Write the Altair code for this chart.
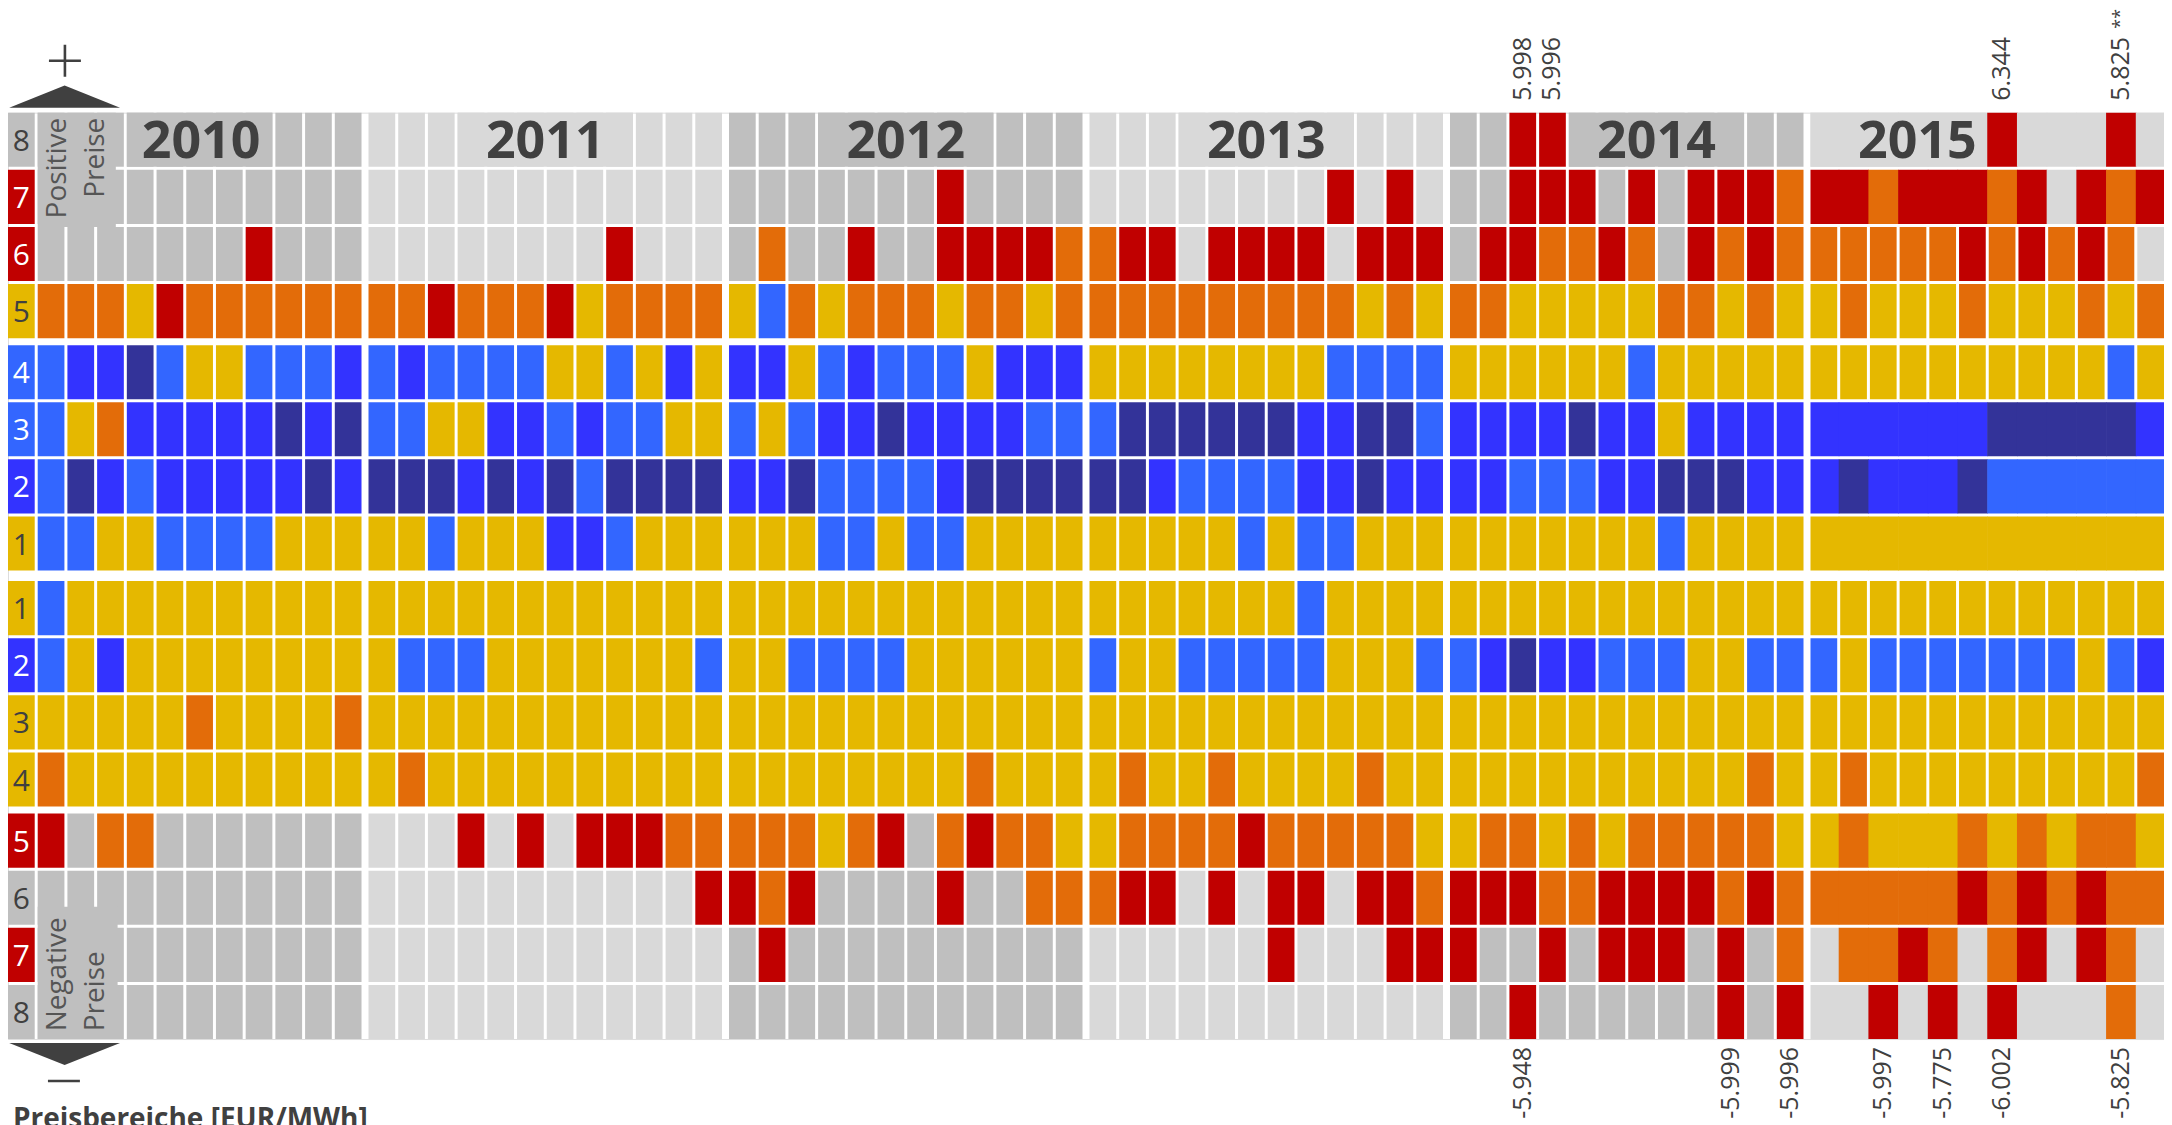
import altair as alt
import pandas as pd

# ---------------- data ----------------
years = [2010, 2011, 2012, 2013, 2014, 2015]
row_names = ["8", "7", "6", "5", "4", "3", "2", "1",
             "1", "2", "3", "4", "5", "6", "7", "8"]

# one string of 12 monthly category codes per year
# G = keine Stunden, R/O/Y/L/B/N = Häufigkeitsklassen
pos8 = ["GGGGGGGGGGGG", "GGGGGGGGGGGG", "GGGGGGGGGGGG", "GGGGGGGGGGGG", "GGRRGGGGGGGG", "GGGGGGRGGGRG"]
pos7 = ["RGGGGGGGGGGG", "GGGGGGGGGGGG", "GGGGGGGRGGGG", "GGGGGGGGRGRG", "GGRRRGRGRRRO", "RRORRRORGROR"]
pos6 = ["RGGGGGGGRGGG", "GGGGGGGGRGGG", "GOGGRGGRRRRO", "ORRGRRRRGRRR", "GRROOROGRORO", "OOOOOROROROG"]
pos5 = ["YOOOYROOOOOO", "OOROOORYOOOO", "YLOYOOOYOOYO", "OOOOOOOOOYOY", "OOYYYYYOOYOY", "YOYYYOYYYOYO"]
pos4 = ["LLBBNLYYLLLB", "LBLLLLYYLYBY", "BBYLBLLLYBBB", "YYYYYYYYLLLL", "YYYYYYLYYYYY", "YYYYYYYYYYLY"]
pos3 = ["LLYOBBBBBNBN", "LLYYBBLBLLYY", "LYLBBNBBBBLL", "LNNNNNNBBNNL", "BBBBNBBYBBBB", "BBBBBBNNNNNB"]
pos2 = ["BLNBLBBBBBNB", "NNNBNBNLNNNN", "BBNLLLLBNNNN", "NNBLLLLBBNBB", "BBLLLBBNNNBB", "BNBBBNLLLLLL"]
pos1 = ["YLLYYLLLLYYY", "YYLYYYBBLYYY", "YYYLLYLLYYYY", "YYYYYLYLLYYY", "YYYYYYYLYYYY", "YYYYYYYYYYYY"]
neg1 = ["YLYYYYYYYYYY", "YYYYYYYYYYYY", "YYYYYYYYYYYY", "YYYYYYYLYYYY", "YYYYYYYYYYYY", "YYYYYYYYYYYY"]
neg2 = ["BLYBYYYYYYYY", "YLLLYYYYYYYL", "YYLLLLYYYYYY", "LYYLLLLLYYYL", "LBNBBLLLYYLL", "LYLLLLLLLYLB"]
neg3 = ["YYYYYYOYYYYO", "YYYYYYYYYYYY", "YYYYYYYYYYYY", "YYYYYYYYYYYY", "YYYYYYYYYYYY", "YYYYYYYYYYYY"]
neg4 = ["YOYYYYYYYYYY", "YOYYYYYYYYYY", "YYYYYYYYOYYY", "YOYYOYYYYOYY", "YYYYYYYYYYOY", "YOYYYYYYYYYO"]
neg5 = ["RRGOOGGGGGGG", "GGGRGRGRRROO", "OOOYORGOROOY", "YOOOOROOOOOY", "YOOYOYOOOOOY", "YOYYYOYOYOOY"]
neg6 = ["GGGGGGGGGGGG", "GGGGGGGGGGGR", "RORGGGGRGGOO", "ORRGRGRRGRRO", "RRROORRRRORO", "OOOOOROROROO"]
neg7 = ["RGGGGGGGGGGG", "GGGGGGGGGGGG", "GRGGGGGGGGGG", "GGGGGGRGGGRR", "RGGRGRRRGRGO", "GOOROGORGROG"]
neg8 = ["GGGGGGGGGGGG", "GGGGGGGGGGGG", "GGGGGGGGGGGG", "GGGGGGGGGGGG", "GGRGGGGGGRGR", "GGRGRGRGGGOG"]
grid = [pos8, pos7, pos6, pos5, pos4, pos3, pos2, pos1,
        neg1, neg2, neg3, neg4, neg5, neg6, neg7, neg8]

# rows whose 2015 months are drawn as continuous bands
merged_rows_2015 = [0, 1, 5, 6, 7, 12, 13, 14, 15]

# extreme values noted above / below the grid
top_note_year = [2014, 2014, 2015, 2015]
top_note_month = [3, 4, 7, 11]
top_note_text = ["5.998", "5.996", "6.344", "5.825"]
top_note_mark = ["", "", "", "**"]
bot_note_year = [2014, 2014, 2014, 2015, 2015, 2015, 2015]
bot_note_month = [3, 10, 12, 3, 5, 7, 11]
bot_note_text = ["-5.948", "-5.999", "-5.996", "-5.997", "-5.775", "-6.002", "-5.825"]

# year label boxes in the top row (first / last month covered)
year_box_first = [5, 4, 4, 4, 5, 1]
year_box_last = [9, 9, 9, 9, 10, 6]
year_text_center = [6.55, 6.0, 6.0, 6.0, 7.0, 3.65]

codes = ["G0", "G1", "R", "O", "Y", "L", "B", "N"]
code_colors = ["#bfbfbf", "#d9d9d9", "#c00000", "#e36c09", "#e5b800", "#3366ff", "#3333ff", "#333399"]
DARK = "#404040"

# ---------------- layout constants (style) ----------------
PX, PY = 29.75, 57.2
G = 3 / PX          # gap between months
K = 4 / PX          # extra gap between years
GY = 3 / PY         # gap between rows
A = 4 / PY          # extra gap between row groups
B = 7.5 / PY        # extra gap between positive and negative block
XMIN, XMAX = G / 2, 72 + 5 * K - G / 2
YMIN, YMAX = GY / 2, 16 + 2 * A + B - GY / 2
W = (XMAX - XMIN) * PX
H = (YMAX - YMIN) * PY
YSTEP = 12 + K

xs = alt.Scale(domain=[XMIN, XMAX], nice=False, zero=False)
ys = alt.Scale(domain=[YMIN, YMAX], nice=False, zero=False, reverse=True)
cs = alt.Scale(domain=codes, range=code_colors)

# ---------------- tables ----------------
recs = []
for r, row in enumerate(grid):
    for yi, s in enumerate(row):
        for m, ch in enumerate(s):
            code = ch if ch != "G" else ("G0" if yi % 2 == 0 else "G1")
            recs.append(dict(r=r, yi=yi, m=m, code=code,
                             merged=bool(yi == 5 and r in merged_rows_2015),
                             label=row_names[r] if (yi == 0 and m == 0) else ""))
cells = pd.DataFrame(recs)

base = alt.Chart(cells).transform_calculate(
    xb=f"datum.yi * {YSTEP} + datum.m",
    yb=f"datum.r + (datum.r >= 4 ? {A} : 0) + (datum.r >= 8 ? {B} : 0) + (datum.r >= 12 ? {A} : 0)",
).transform_calculate(
    x0=f"datum.xb + ((datum.merged && datum.m > 0) ? 0 : {G / 2})",
    x1=f"datum.xb + ((datum.merged && datum.m < 11) ? 1.02 : {1 - G / 2})",
    y0=f"datum.yb + {GY / 2}",
    y1=f"datum.yb + {1 - GY / 2}",
    xc="datum.xb + 0.5",
    yc="datum.yb + 0.5",
)

cell_layer = base.mark_rect().encode(
    x=alt.X("x0:Q", scale=xs, axis=None),
    x2="x1:Q",
    y=alt.Y("y0:Q", scale=ys, axis=None),
    y2="y1:Q",
    color=alt.Color("code:N", scale=cs, legend=None),
)

lab_light = base.transform_filter(
    "datum.label != '' && indexof(['R','L','B','N'], datum.code) >= 0"
).mark_text(font="Open Sans", fontSize=30, color="white", baseline="middle", dy=2).encode(
    x=alt.X("xc:Q", scale=xs, axis=None), y=alt.Y("yc:Q", scale=ys, axis=None), text="label:N")
lab_dark = base.transform_filter(
    "datum.label != '' && indexof(['R','L','B','N'], datum.code) < 0"
).mark_text(font="Open Sans", fontSize=30, color=DARK, baseline="middle", dy=2).encode(
    x=alt.X("xc:Q", scale=xs, axis=None), y=alt.Y("yc:Q", scale=ys, axis=None), text="label:N")

# year labels
ydf = pd.DataFrame(dict(
    yi=list(range(6)), year=[str(y) for y in years],
    a=[v - 1 for v in year_box_first], b=[v - 1 for v in year_box_last],
    c=year_text_center,
    code=["G0" if i % 2 == 0 else "G1" for i in range(6)],
))
ybase = alt.Chart(ydf).transform_calculate(
    bx0=f"datum.yi * {YSTEP} + datum.a + {G / 2}",
    bx1=f"datum.yi * {YSTEP} + datum.b + {1 - G / 2}",
    tx=f"datum.yi * {YSTEP} + datum.c",
    by0=f"{GY / 2}", by1=f"{1 - GY / 2}", ty="0.5",
)
ybox = ybase.mark_rect().encode(
    x=alt.X("bx0:Q", scale=xs, axis=None), x2="bx1:Q",
    y=alt.Y("by0:Q", scale=ys, axis=None), y2="by1:Q",
    color=alt.Color("code:N", scale=cs, legend=None))
ytext = ybase.mark_text(font="Open Sans", fontSize=52, fontWeight="bold", color=DARK,
                        baseline="middle", dy=2).encode(
    x=alt.X("tx:Q", scale=xs, axis=None), y=alt.Y("ty:Q", scale=ys, axis=None), text="year:N")

# "Positive / Negative Preise" boxes
pn_box = pd.DataFrame(dict(x0=[1 + G / 2, 1 + G / 2], x1=[3.68, 3.74],
                           y0=[YMIN, 13.93], y1=[2 + GY / 2, YMAX], code=["G0", "G0"]))
pnbox = alt.Chart(pn_box).mark_rect().encode(
    x=alt.X("x0:Q", scale=xs, axis=None), x2="x1:Q",
    y=alt.Y("y0:Q", scale=ys, axis=None), y2="y1:Q",
    color=alt.Color("code:N", scale=cs, legend=None))
pos_txt = pd.DataFrame(dict(t=["Positive", "Preise"], x=[1.75, 3.0], y=[0.115, 0.115]))
neg_txt = pd.DataFrame(dict(t=["Negative", "Preise"], x=[1.75, 3.0], y=[16.11, 16.11]))
postext = alt.Chart(pos_txt).mark_text(font="Open Sans", fontSize=28, color="#555555", angle=270,
                                       align="right", baseline="middle").encode(
    x=alt.X("x:Q", scale=xs, axis=None), y=alt.Y("y:Q", scale=ys, axis=None), text="t:N")
negtext = alt.Chart(neg_txt).mark_text(font="Open Sans", fontSize=28, color="#555555", angle=270,
                                       align="left", baseline="middle").encode(
    x=alt.X("x:Q", scale=xs, axis=None), y=alt.Y("y:Q", scale=ys, axis=None), text="t:N")

# notes
tn = pd.DataFrame(dict(yi=[y - 2010 for y in top_note_year], m=[v - 1 for v in top_note_month],
                       t=top_note_text, s=top_note_mark))
bn = pd.DataFrame(dict(yi=[y - 2010 for y in bot_note_year], m=[v - 1 for v in bot_note_month], t=bot_note_text))
topnotes = alt.Chart(tn).transform_calculate(xc=f"datum.yi * {YSTEP} + datum.m + 0.5").mark_text(
    font="Open Sans", fontSize=25, color=DARK, angle=270, align="left", baseline="middle").encode(
    x=alt.X("xc:Q", scale=xs, axis=None), y=alt.value(-12), text="t:N")
topmarks = alt.Chart(tn).transform_filter("datum.s != ''").transform_calculate(
    xc=f"datum.yi * {YSTEP} + datum.m + 0.5").mark_text(
    font="Open Sans", fontSize=18, color=DARK, angle=270, align="left", baseline="middle", dx=3).encode(
    x=alt.X("xc:Q", scale=xs, axis=None), y=alt.value(-81), text="s:N")
botnotes = alt.Chart(bn).transform_calculate(xc=f"datum.yi * {YSTEP} + datum.m + 0.5").mark_text(
    font="Open Sans", fontSize=25, color=DARK, angle=270, align="right", baseline="middle").encode(
    x=alt.X("xc:Q", scale=xs, axis=None), y=alt.value(H + 8), text="t:N")

# decorations: arrows, plus / minus, unit caption
one = pd.DataFrame({"k": [0]})
tri_up = alt.Chart(one).mark_point(shape="M-1,0.2L0,-0.2L1,0.2Z", size=111 ** 2, filled=True,
                                   color=DARK, opacity=1).encode(x=alt.value(56.7), y=alt.value(-16))
tri_dn = alt.Chart(one).mark_point(shape="M-1,-0.2L0,0.2L1,-0.2Z", size=111 ** 2, filled=True,
                                   color=DARK, opacity=1).encode(x=alt.value(56.7), y=alt.value(H + 15))
plus = alt.Chart(one).mark_point(shape="M-1,0L1,0M0,-1L0,1", size=32 ** 2, filled=False,
                                 color=DARK, strokeWidth=2.6, opacity=1).encode(x=alt.value(57), y=alt.value(-52))
minus = alt.Chart(one).mark_point(shape="M-1,0L1,0", size=32 ** 2, filled=False,
                                  color=DARK, strokeWidth=2.6, opacity=1).encode(x=alt.value(56), y=alt.value(H + 42))
unit = alt.Chart(one).mark_text(text="Preisbereiche [EUR/MWh]", font="Open Sans", fontSize=28,
                                fontWeight="bold", color=DARK, align="left", baseline="alphabetic").encode(
    x=alt.value(5), y=alt.value(H + 89))

chart = alt.layer(
    cell_layer, ybox, pnbox, lab_light, lab_dark, ytext, postext, negtext,
    topnotes, topmarks, botnotes, tri_up, tri_dn, plus, minus, unit,
).properties(
    width=W, height=H,
    autosize=alt.AutoSizeParams(type="none"),
    padding={"left": 0, "top": 104, "right": 0, "bottom": 120},
).configure_view(stroke=None).configure(background="white")

chart.save("out.html", embed_options={"renderer": "svg", "actions": False})
